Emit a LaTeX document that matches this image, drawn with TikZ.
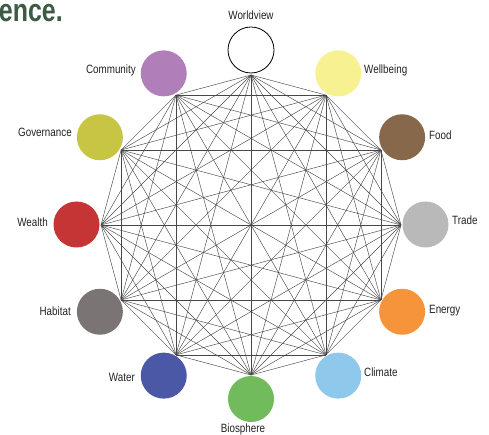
\documentclass[tikz,border=0pt]{standalone}
\usepackage{fontspec}
\setmainfont[FakeStretch=0.82]{Liberation Sans}
\newfontfamily\headfont[FakeStretch=0.78]{Liberation Sans}
\definecolor{headgreen}{HTML}{3B5B45}
\definecolor{cWorld}{HTML}{FFFFFF}
\definecolor{cWell}{HTML}{F8F191}
\definecolor{cFood}{HTML}{87684B}
\definecolor{cTrade}{HTML}{B9B9B9}
\definecolor{cEnergy}{HTML}{F6943B}
\definecolor{cClimate}{HTML}{8EC8EB}
\definecolor{cBio}{HTML}{72BB5C}
\definecolor{cWater}{HTML}{4A58A6}
\definecolor{cHabitat}{HTML}{7A7574}
\definecolor{cWealth}{HTML}{C53535}
\definecolor{cGov}{HTML}{C8C444}
\definecolor{cComm}{HTML}{B07FBA}
\definecolor{labeltext}{HTML}{222222}
\begin{document}
\begin{tikzpicture}[x=1pt,y=-1pt,
  ball/.style={circle,minimum size=46pt,inner sep=0pt,draw=none},
  lab/.style={inner sep=0pt,text=labeltext,font=\fontsize{12}{12}\selectfont},
  link/.style={line width=0.45pt,draw=black!72}]
\useasboundingbox (0,0) rectangle (489,435);
% vertices of the polygon
\foreach \i in {1,...,12}{
  \coordinate (v\i) at ({251+150*cos(90-30*(\i-1))},{225-150*sin(90-30*(\i-1))});
}
% all connections
\foreach \i in {1,...,12}{
  \foreach \j in {1,...,12}{
    \ifnum\j>\i \draw[link] (v\i) -- (v\j); \fi
  }
}
% circles
\node[ball,draw=black,line width=0.8pt,fill=cWorld] (c1) at ({251+174.5*cos(90)},{224.5-174.5*sin(90)}) {};
\node[ball,fill=cWell]    (c2)  at ({251+174.5*cos(60)},{224.5-174.5*sin(60)}) {};
\node[ball,fill=cFood]    (c3)  at ({251+174.5*cos(30)},{224.5-174.5*sin(30)}) {};
\node[ball,fill=cTrade]   (c4)  at ({251+174.5*cos(0)},{224.5-174.5*sin(0)}) {};
\node[ball,fill=cEnergy]  (c5)  at ({251+174.5*cos(-30)},{224.5-174.5*sin(-30)}) {};
\node[ball,fill=cClimate] (c6)  at ({251+174.5*cos(-60)},{224.5-174.5*sin(-60)}) {};
\node[ball,fill=cBio]     (c7)  at ({251+174.5*cos(-90)},{224.5-174.5*sin(-90)}) {};
\node[ball,fill=cWater]   (c8)  at ({251+174.5*cos(-120)},{224.5-174.5*sin(-120)}) {};
\node[ball,fill=cHabitat] (c9)  at ({251+174.5*cos(-150)},{224.5-174.5*sin(-150)}) {};
\node[ball,fill=cWealth]  (c10) at ({251+174.5*cos(180)},{224.5-174.5*sin(180)}) {};
\node[ball,fill=cGov]     (c11) at ({251+174.5*cos(150)},{224.5-174.5*sin(150)}) {};
\node[ball,fill=cComm]    (c12) at ({251+174.5*cos(120)},{224.5-174.5*sin(120)}) {};
% labels
\node[lab,anchor=mid]      (l1)  at (251,17)  {Worldview};
\node[lab,anchor=mid west] (l2)  at (364,71)  {Wellbeing};
\node[lab,anchor=mid west] (l3)  at (429,137) {Food};
\node[lab,anchor=mid west] (l4)  at (452,222) {Trade};
\node[lab,anchor=mid west] (l5)  at (429,311) {Energy};
\node[lab,anchor=mid west] (l6)  at (364,374) {Climate};
\node[lab,anchor=mid]      (l7)  at (243,430) {Biosphere};
\node[lab,anchor=mid east] (l8)  at (135,379) {Water};
\node[lab,anchor=mid east] (l9)  at (71,313)  {Habitat};
\node[lab,anchor=mid east] (l10) at (48,224)  {Wealth};
\node[lab,anchor=mid east] (l11) at (72,134)  {Governance};
\node[lab,anchor=mid east] (l12) at (136,71)  {Community};
% heading fragment
\node[anchor=base east,inner sep=0pt,text=headgreen,font=\headfont\bfseries\fontsize{32}{32}\selectfont] (head) at (63,22) {ence.};
\end{tikzpicture}
\end{document}
